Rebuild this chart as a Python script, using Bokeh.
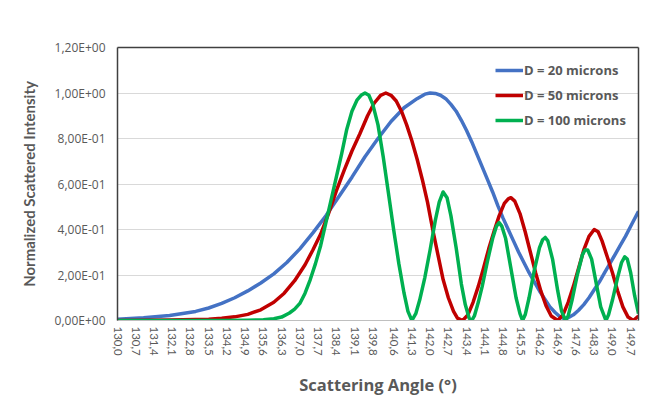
from bokeh.plotting import figure
from bokeh.models import FixedTicker, LinearAxis, Legend, LegendItem, Range1d
from bokeh.embed import file_html
from bokeh.resources import INLINE

# ---- data ----
blue_x = [130.0, 131.0, 132.0, 133.0, 133.5, 134.0, 134.5, 135.0, 135.5, 136.0,
          136.5, 137.0, 137.5, 138.0, 138.5, 139.0, 139.5, 140.0, 140.5, 141.0,
          141.5, 141.8, 142.0, 142.2, 142.4, 142.6, 142.8, 143.0, 143.2, 143.4,
          143.6, 143.8, 144.0, 144.2, 144.4, 144.6, 144.8, 145.0, 145.2, 145.4,
          145.6, 145.8, 146.0, 146.2, 146.4, 146.6, 146.8, 147.0, 147.15, 147.3,
          147.5, 147.7, 147.9, 148.1, 148.3, 148.5, 148.7, 148.9, 149.1, 149.3,
          149.5, 149.75, 150.0]
blue_y = [0.005, 0.012, 0.022, 0.040, 0.055, 0.075, 0.100, 0.130, 0.165, 0.205,
          0.255, 0.315, 0.385, 0.460, 0.545, 0.630, 0.720, 0.800, 0.875, 0.935,
          0.975, 0.995, 1.000, 0.998, 0.990, 0.975, 0.950, 0.920, 0.880, 0.835,
          0.785, 0.730, 0.675, 0.620, 0.565, 0.505, 0.450, 0.400, 0.350, 0.300,
          0.255, 0.210, 0.170, 0.130, 0.095, 0.060, 0.035, 0.015, 0.008, 0.012,
          0.025, 0.045, 0.070, 0.100, 0.135, 0.170, 0.210, 0.250, 0.290, 0.330,
          0.370, 0.425, 0.480]

red_x = [130.0, 131.0, 132.0, 133.0, 133.5, 134.0, 134.5, 135.0, 135.5, 136.0,
         136.4, 136.8, 137.2, 137.5, 137.8, 138.1, 138.4, 138.7, 139.0, 139.3,
         139.6, 139.85, 140.1, 140.3, 140.5, 140.7, 140.9, 141.1, 141.3, 141.5,
         141.7, 141.9, 142.1, 142.3, 142.5, 142.7, 142.9, 143.05, 143.25, 143.45,
         143.65, 143.85, 144.05, 144.25, 144.45, 144.65, 144.85, 145.0, 145.1, 145.25,
         145.45, 145.65, 145.85, 146.05, 146.25, 146.45, 146.65, 146.9, 147.1, 147.3,
         147.5, 147.7, 147.9, 148.1, 148.3, 148.45, 148.6, 148.8, 149.0, 149.2,
         149.4, 149.6, 149.8, 150.0]
red_y = [0.000, 0.001, 0.002, 0.004, 0.006, 0.010, 0.016, 0.027, 0.047, 0.080,
         0.120, 0.175, 0.245, 0.310, 0.380, 0.470, 0.570, 0.660, 0.745, 0.820,
         0.900, 0.955, 0.990, 1.000, 0.990, 0.965, 0.920, 0.860, 0.790, 0.710,
         0.620, 0.520, 0.400, 0.290, 0.180, 0.100, 0.040, 0.010, 0.000, 0.025,
         0.080, 0.150, 0.230, 0.315, 0.390, 0.460, 0.515, 0.535, 0.540, 0.525,
         0.470, 0.390, 0.300, 0.210, 0.130, 0.065, 0.020, 0.000, 0.025, 0.080,
         0.150, 0.230, 0.310, 0.370, 0.400, 0.390, 0.350, 0.280, 0.210, 0.130,
         0.060, 0.015, 0.000, 0.020]

green_x = [130.0, 131.0, 132.0, 133.0, 134.0, 135.0, 135.6, 136.0, 136.3, 136.6,
           136.8, 137.0, 137.2, 137.4, 137.6, 137.8, 138.0, 138.2, 138.4, 138.6,
           138.8, 139.0, 139.2, 139.35, 139.5, 139.65, 139.8, 140.0, 140.2, 140.4,
           140.6, 140.8, 141.0, 141.15, 141.3, 141.45, 141.6, 141.8, 142.0, 142.2,
           142.35, 142.5, 142.65, 142.8, 143.0, 143.2, 143.35, 143.5, 143.6, 143.7,
           143.85, 144.0, 144.2, 144.4, 144.55, 144.65, 144.75, 144.9, 145.1, 145.3,
           145.45, 145.55, 145.65, 145.8, 146.0, 146.2, 146.32, 146.42, 146.52, 146.7,
           146.9, 147.05, 147.2, 147.3, 147.45, 147.65, 147.85, 147.95, 148.05, 148.2,
           148.4, 148.55, 148.75, 148.85, 149.0, 149.2, 149.35, 149.47, 149.57, 149.7,
           149.85, 150.0]
green_y = [0.000, 0.000, 0.000, 0.000, 0.000, 0.001, 0.003, 0.008, 0.015, 0.033,
           0.050, 0.075, 0.120, 0.180, 0.250, 0.330, 0.430, 0.530, 0.630, 0.730,
           0.840, 0.920, 0.970, 0.990, 1.000, 0.990, 0.950, 0.860, 0.720, 0.560,
           0.400, 0.250, 0.120, 0.040, 0.000, 0.030, 0.090, 0.190, 0.310, 0.440,
           0.520, 0.565, 0.540, 0.460, 0.320, 0.160, 0.070, 0.010, 0.000, 0.020,
           0.080, 0.150, 0.260, 0.360, 0.415, 0.430, 0.415, 0.360, 0.230, 0.100,
           0.030, 0.000, 0.025, 0.100, 0.220, 0.320, 0.355, 0.365, 0.350, 0.270,
           0.130, 0.040, 0.000, 0.020, 0.090, 0.200, 0.290, 0.310, 0.310, 0.270,
           0.150, 0.060, 0.000, 0.025, 0.090, 0.190, 0.255, 0.280, 0.270, 0.210,
           0.110, 0.030]

series_names = ["D = 20 microns", "D = 50 microns", "D = 100 microns"]

x_tick_values = [130.0, 130.7, 131.4, 132.1, 132.8, 133.5, 134.2, 134.9, 135.6, 136.3,
                 137.0, 137.7, 138.4, 139.1, 139.8, 140.6, 141.3, 142.0, 142.7, 143.4,
                 144.1, 144.8, 145.5, 146.2, 146.9, 147.6, 148.3, 149.0, 149.7]
x_tick_labels = ["130,0", "130,7", "131,4", "132,1", "132,8", "133,5", "134,2", "134,9",
                 "135,6", "136,3", "137,0", "137,7", "138,4", "139,1", "139,8", "140,6",
                 "141,3", "142,0", "142,7", "143,4", "144,1", "144,8", "145,5", "146,2",
                 "146,9", "147,6", "148,3", "149,0", "149,7"]
y_tick_values = [0.0, 0.2, 0.4, 0.6, 0.8, 1.0, 1.2]
y_tick_labels = ["0,00E+00", "2,00E-01", "4,00E-01", "6,00E-01", "8,00E-01",
                 "1,00E+00", "1,20E+00"]

# ---- styling ----
FONT = "Lato"
WIDE = "Open Sans"
TXT = "#595959"
colors = ["#4472C4", "#C00000", "#00B050"]

p = figure(width=657, height=399, output_backend="svg", toolbar_location=None,
           x_range=Range1d(130, 150), y_range=Range1d(0, 1.2),
           min_border_left=117, min_border_right=19, min_border_top=47,
           min_border_bottom=79, background_fill_color="white",
           border_fill_color="white")
p.outline_line_color = None
p.xgrid.visible = False
p.ygrid.grid_line_color = "#d9d9d9"
p.ygrid.grid_line_width = 1
p.ygrid.ticker = FixedTicker(ticks=y_tick_values)

# x axis
xa = p.xaxis[0]
xa.ticker = FixedTicker(ticks=x_tick_values)
xa.major_label_overrides = {v: l for v, l in zip(x_tick_values, x_tick_labels)}
xa.major_label_orientation = "vertical"
xa.major_label_text_font = FONT
xa.major_label_text_font_size = "11.5px"
xa.major_label_text_color = TXT
xa.major_label_standoff = 6
xa.major_tick_out = 0
xa.major_tick_in = 0
xa.minor_tick_out = 0
xa.minor_tick_in = 0
xa.axis_line_color = "#bfbfbf"
xa.axis_line_width = 1
xa.axis_label = "Scattering Angle (°)"
xa.axis_label_text_font = WIDE
xa.axis_label_text_font_style = "bold"
xa.axis_label_text_font_size = "16.5px"
xa.axis_label_text_color = TXT
xa.axis_label_standoff = 14

# y axis
ya = p.yaxis[0]
ya.ticker = FixedTicker(ticks=y_tick_values)
ya.major_label_overrides = {v: l for v, l in zip(y_tick_values, y_tick_labels)}
ya.major_label_text_font = WIDE
ya.major_label_text_font_size = "12px"
ya.major_label_text_color = TXT
ya.major_label_standoff = 12
ya.major_tick_out = 0
ya.major_tick_in = 0
ya.minor_tick_out = 0
ya.minor_tick_in = 0
ya.axis_line_color = "#404040"
ya.axis_line_width = 1.5
ya.axis_label = "Normalized Scattered Intensity"
ya.axis_label_text_font = FONT
ya.axis_label_text_font_style = "bold"
ya.axis_label_text_font_size = "15px"
ya.axis_label_text_color = TXT
ya.axis_label_standoff = 14

# frame lines on top and right (bare axes)
for side in ("above", "right"):
    ax = LinearAxis(ticker=FixedTicker(ticks=[]), major_label_text_font_size="0px",
                    major_tick_out=0, major_tick_in=0, minor_tick_out=0, minor_tick_in=0,
                    axis_line_color="#404040", axis_line_width=1.5)
    p.add_layout(ax, side)

# series
r_blue = p.line(blue_x, blue_y, line_color=colors[0], line_width=3.5, line_join="round")
r_red = p.line(red_x, red_y, line_color=colors[1], line_width=3.5, line_join="round")
r_green = p.line(green_x, green_y, line_color=colors[2], line_width=3.5, line_join="round")

legend = Legend(items=[LegendItem(label=series_names[0], renderers=[r_blue]),
                       LegendItem(label=series_names[1], renderers=[r_red]),
                       LegendItem(label=series_names[2], renderers=[r_green])],
                location=(378, 189), padding=0, margin=0, spacing=3,
                glyph_width=28, glyph_height=22, label_height=22, label_standoff=1,
                border_line_color=None, background_fill_alpha=0,
                label_text_font=WIDE, label_text_font_style="bold",
                label_text_font_size="13px", label_text_color=TXT)
p.add_layout(legend)

open("out.html", "w").write(file_html(p, INLINE))
